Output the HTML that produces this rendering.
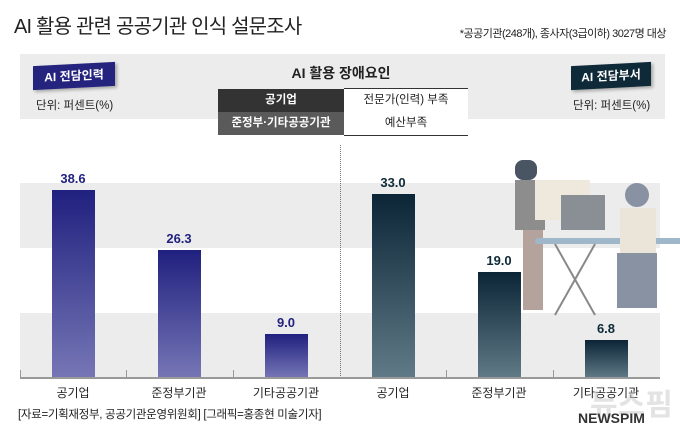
<!DOCTYPE html>
<html><head><meta charset="utf-8"><style>
body{margin:0;width:680px;height:442px;background:#fff;position:relative;overflow:hidden;font-family:"Liberation Sans","Noto Sans CJK KR",sans-serif;color:#222}
.a{position:absolute}
.lb{position:absolute;width:80px;text-align:center;font-size:12px;color:#222}
.v{position:absolute;width:80px;text-align:center;font-size:13px;font-weight:bold}
.bl{position:absolute;width:43px;background:linear-gradient(#20207f,#7676b6)}
.br{position:absolute;width:43px;background:linear-gradient(#0b2537,#607a87)}
</style></head><body>
<div class="a" style="left:14px;top:10px;font-size:20px;letter-spacing:-0.8px">AI 활용 관련 공공기관 인식 설문조사</div>
<div class="a" style="right:14px;top:25px;font-size:11px;letter-spacing:-0.5px">*공공기관(248개), 종사자(3급이하) 3027명 대상</div>
<div class="a" style="left:20px;top:54px;width:645px;height:65px;background:#ececec"></div>
<div class="a" style="left:33px;top:64px;width:82px;height:24px;background:#24247f;color:#fff;font-size:12px;font-weight:bold;line-height:24px;text-align:center;transform:skewY(-3deg);box-shadow:2px 2px 3px rgba(0,0,0,.3)">AI 전담인력</div>
<div class="a" style="left:36px;top:97px;font-size:11.5px">단위: 퍼센트(%)</div>
<div class="a" style="left:571px;top:64px;width:80px;height:24px;background:#0e2a38;color:#fff;font-size:12px;font-weight:bold;line-height:24px;text-align:center;transform:skewY(-3deg);box-shadow:2px 2px 3px rgba(0,0,0,.3)">AI 전담부서</div>
<div class="a" style="left:573px;top:97px;font-size:11.5px">단위: 퍼센트(%)</div>
<div class="a" style="left:216px;top:63px;width:250px;text-align:center;font-size:14px;font-weight:bold">AI 활용 장애요인</div>
<div class="a" style="left:218px;top:89px;width:126px;height:23px;background:#333;color:#fff;font-size:11.5px;font-weight:bold;text-align:center;line-height:23px">공기업</div>
<div class="a" style="left:344px;top:88px;width:124px;height:23px;background:#fff;border-top:1px solid #333;border-bottom:1px solid #333;font-size:11.5px;text-align:center;line-height:23px">전문가(인력) 부족</div>
<div class="a" style="left:218px;top:112px;width:126px;height:23px;background:#5a5a5a;color:#fff;font-size:11.5px;font-weight:bold;text-align:center;line-height:23px;white-space:nowrap">준정부·기타공공기관</div>
<div class="a" style="left:344px;top:112px;width:124px;height:23px;background:#fff;border-bottom:1px solid #333;font-size:11.5px;text-align:center;line-height:23px">예산부족</div>
<div class="a" style="left:20px;top:183px;width:640px;height:65px;background:#ececec"></div>
<div class="a" style="left:20px;top:313px;width:640px;height:65px;background:#ececec"></div>
<div class="a" style="left:340px;top:145px;height:233px;border-left:1px dotted #777"></div>
<svg class="a" style="left:495px;top:150px" width="190" height="180">
<rect x="20" y="10" width="22" height="20" rx="8" fill="#4a5563"/>
<rect x="20" y="30" width="30" height="50" fill="#8d8d8d"/>
<rect x="40" y="30" width="55" height="40" fill="#efe9dd"/>
<rect x="28" y="80" width="20" height="80" fill="#b4a39c"/>
<rect x="66" y="45" width="44" height="35" fill="#8a8f95"/>
<rect x="40" y="88" width="150" height="6" rx="3" fill="#9fb8c9"/>
<line x1="60" y1="94" x2="100" y2="165" stroke="#888" stroke-width="2"/>
<line x1="100" y1="94" x2="60" y2="165" stroke="#888" stroke-width="2"/>
<circle cx="142" cy="45" r="12" fill="#8892a3"/>
<rect x="125" y="58" width="36" height="45" fill="#eae5d8"/>
<rect x="122" y="103" width="40" height="55" fill="#8892a3"/>
</svg>
<div class="bl" style="left:52px;top:190px;height:188px"></div>
<div class="bl" style="left:158px;top:250px;height:128px"></div>
<div class="bl" style="left:265px;top:334px;height:44px"></div>
<div class="br" style="left:372px;top:194px;height:184px"></div>
<div class="br" style="left:478px;top:272px;height:106px"></div>
<div class="br" style="left:585px;top:340px;height:38px"></div>
<div class="v" style="left:33px;top:171px;color:#22227f">38.6</div>
<div class="v" style="left:139px;top:231px;color:#22227f">26.3</div>
<div class="v" style="left:246px;top:315px;color:#22227f">9.0</div>
<div class="v" style="left:353px;top:175px;color:#0e2a38">33.0</div>
<div class="v" style="left:459px;top:253px;color:#0e2a38">19.0</div>
<div class="v" style="left:566px;top:321px;color:#0e2a38">6.8</div>
<div class="a" style="left:20px;top:377px;width:640px;height:2px;background:#999"></div>
<div class="a" style="left:20px;top:370px;height:8px;border-left:1px solid #999"></div>
<div class="a" style="left:126px;top:370px;height:8px;border-left:1px solid #999"></div>
<div class="a" style="left:233px;top:370px;height:8px;border-left:1px solid #999"></div>
<div class="a" style="left:446px;top:370px;height:8px;border-left:1px solid #999"></div>
<div class="a" style="left:553px;top:370px;height:8px;border-left:1px solid #999"></div>
<div class="lb" style="left:33px;top:384px">공기업</div>
<div class="lb" style="left:139px;top:384px">준정부기관</div>
<div class="lb" style="left:246px;top:384px">기타공공기관</div>
<div class="lb" style="left:353px;top:384px">공기업</div>
<div class="lb" style="left:459px;top:384px">준정부기관</div>
<div class="lb" style="left:566px;top:384px">기타공공기관</div>
<div class="a" style="left:18px;top:406px;font-size:11.5px;letter-spacing:-0.3px">[자료=기획재정부, 공공기관운영위원회] [그래픽=홍종현 미술기자]</div>
<div class="a" style="left:590px;top:380px;font-size:30px;font-weight:bold;color:rgba(200,200,200,.5)">뉴스핌</div>
<div class="a" style="left:578px;top:410px;font-size:14px;font-weight:bold;color:#333">NEWSPIM</div>
</body></html>
